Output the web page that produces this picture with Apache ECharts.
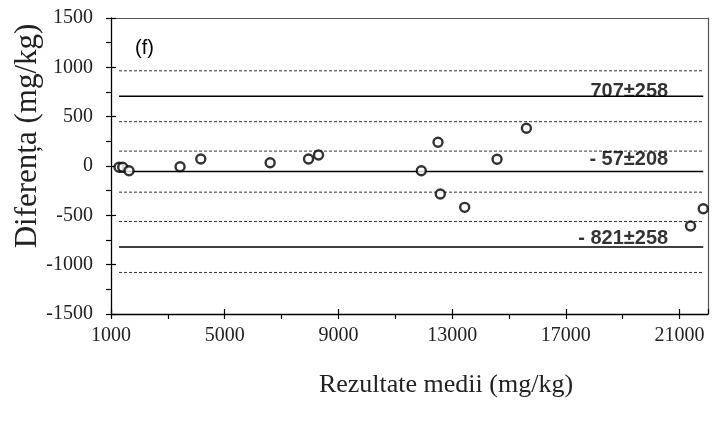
<!DOCTYPE html>
<html><head><meta charset="utf-8">
<script src="https://cdn.jsdelivr.net/npm/echarts@6/dist/echarts.min.js"></script>
<style>html,body{margin:0;padding:0;background:#fff}#c{width:712px;height:421px}</style>
</head><body><div id="c"></div>
<script>
// Data
const xValues = [1282, 1412, 1634, 3430, 4158, 6598, 7948, 8300, 11915, 12503, 12584, 13441, 14580, 15612, 21386, 21833];
const yValues = [-13, -13, -48, -7, 71, 33, 71, 111, -48, 240, -284, -419, 68, 382, -608, -433];
const limitMeans = [707, -57, -821];
const limitSDs = [258, 208, 258];
const limitLabels = ['707±258', '- 57±208', '- 821±258'];
const xTickLabels = [1000, 5000, 9000, 13000, 17000, 21000];
const yTickLabels = [-1500, -1000, -500, 0, 500, 1000, 1500];
const panelLabel = '(f)';
const xTitle = 'Rezultate medii (mg/kg)';
const yTitle = 'Diferența (mg/kg)';

const chart = echarts.init(document.getElementById('c'), null, {renderer: 'canvas'});
const xmin = Math.min(...xValues), xmax = Math.max(...xValues);
const pts = xValues.map((x, i) => [x, yValues[i]]);

const series = [];
limitMeans.forEach((m, i) => {
  series.push({type: 'line', data: [[xmin, m], [xmax, m]], symbol: 'none', silent: true,
    lineStyle: {color: '#000', width: 1.5, type: 'solid'}, z: 2});
  [m + limitSDs[i], m - limitSDs[i]].forEach(v => {
    series.push({type: 'line', data: [[xmin, v], [xmax, v]], symbol: 'none', silent: true,
      lineStyle: {color: '#333', width: 1, type: [3, 2]}, z: 2});
  });
});
series.push({type: 'scatter', data: pts, symbol: 'circle', symbolSize: 9,
  itemStyle: {color: '#fff', borderColor: '#000', borderWidth: 2.4}, z: 5});
const labelOffsets = [[0, -5], [0, -12], [0, -9]];
series.push({type: 'scatter', symbolSize: 0, silent: true, z: 6,
  data: limitMeans.map((m, i) => ({value: [20600, m], label: {offset: labelOffsets[i], formatter: limitLabels[i]}})),
  label: {show: true, position: 'left', distance: 0, color: '#000', fontFamily: 'Liberation Sans', fontWeight: 'bold', fontSize: 20}
});

const serif = 'Liberation Serif';
const frame = (pos) => ({
  type: 'value', position: pos, min: pos === 'top' ? 1000 : -1500, max: pos === 'top' ? 22000 : 1500,
  axisLine: {show: true, onZero: false, lineStyle: {color: '#555', width: 1.2}},
  axisTick: {show: false}, axisLabel: {show: false}, splitLine: {show: false}
});
chart.setOption({
  animation: false,
  grid: {left: 111, right: 4, top: 18, bottom: 107},
  xAxis: [{
    type: 'value', min: 1000, max: 22000, interval: 2000,
    axisLine: {show: true, onZero: false, lineStyle: {color: '#000', width: 1.3}},
    axisTick: {show: true, inside: false, length: 5, lineStyle: {color: '#000', width: 1.2}},
    axisLabel: {margin: 12, color: '#222', fontFamily: serif, fontSize: 20, showMaxLabel: false,
      formatter: v => xTickLabels.includes(v) ? String(v) : ''},
    splitLine: {show: false}
  }, {
    type: 'value', min: 1000, max: 22000, interval: 4000, position: 'bottom',
    axisLine: {show: false, onZero: false}, axisTick: {show: true, inside: true, length: 5, lineStyle: {color: '#000', width: 1.2}},
    axisLabel: {show: false}, splitLine: {show: false}
  }, frame('top')],
  yAxis: [{
    type: 'value', min: -1500, max: 1500, interval: 250,
    axisLine: {show: true, onZero: false, lineStyle: {color: '#000', width: 1.3}},
    axisTick: {show: true, inside: false, length: 5, lineStyle: {color: '#000', width: 1.2}},
    axisLabel: {margin: 18, color: '#222', fontFamily: serif, fontSize: 20,
      formatter: v => yTickLabels.includes(v) ? String(v) : ''},
    splitLine: {show: false}
  }, {
    type: 'value', min: -1500, max: 1500, interval: 500, position: 'left',
    axisLine: {show: false, onZero: false}, axisTick: {show: true, inside: true, length: 5, lineStyle: {color: '#000', width: 1.2}},
    axisLabel: {show: false}, splitLine: {show: false}
  }, frame('right')],
  graphic: [
    {type: 'text', x: 135, y: 38, style: {text: panelLabel, font: '20px "Liberation Sans"', fill: '#000'}},
    {type: 'text', x: 446, y: 385, style: {text: xTitle, font: '26px "Liberation Serif"', fill: '#222', textAlign: 'center', textVerticalAlign: 'middle'}},
    {type: 'text', x: 28, y: 136, rotation: Math.PI / 2, style: {text: yTitle, font: '31px "Liberation Serif"', fill: '#222', textAlign: 'center', textVerticalAlign: 'middle'}}
  ],
  series: series
});
</script></body></html>
